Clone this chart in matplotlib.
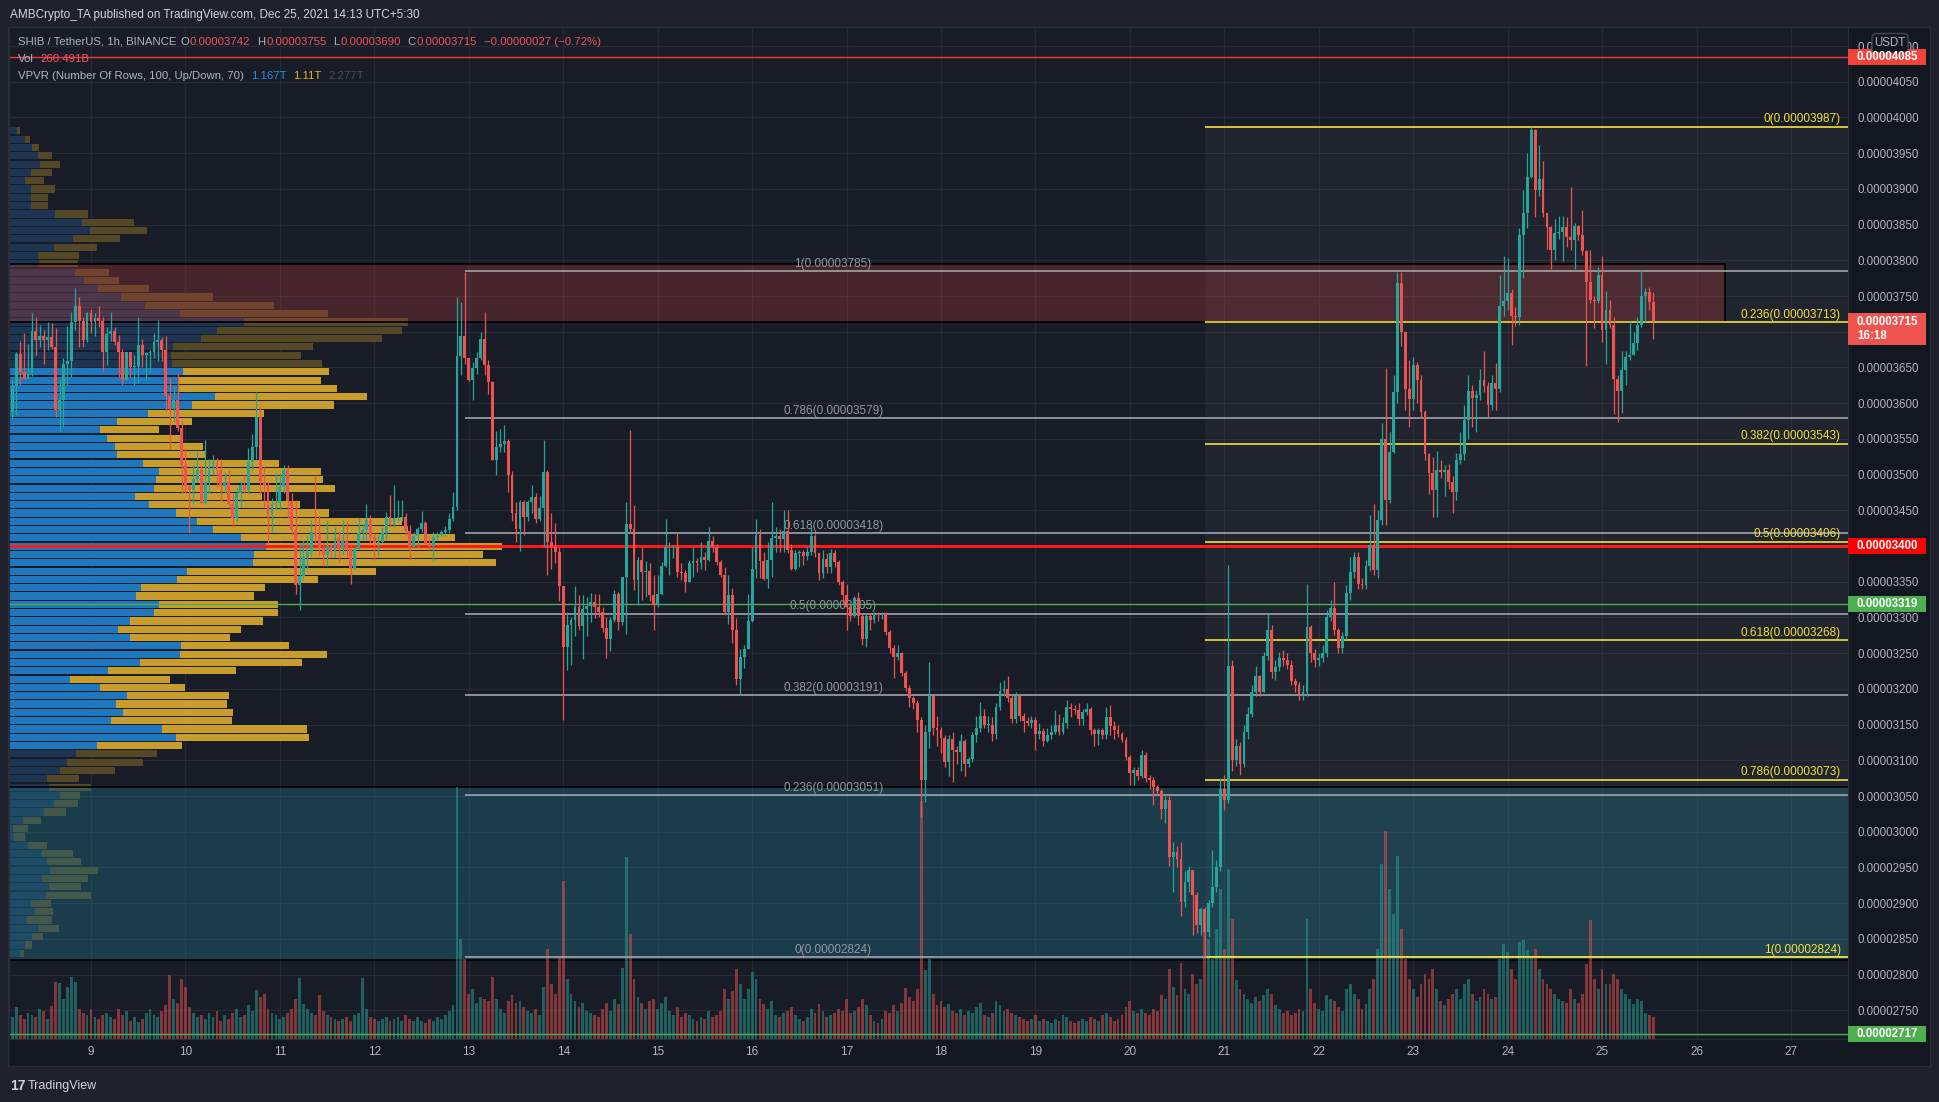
import matplotlib
matplotlib.use("Agg")
import matplotlib.pyplot as plt
import matplotlib.transforms as mtransforms
from matplotlib.patches import Rectangle, FancyBboxPatch
import numpy as np

plt.rcParams['font.family'] = ['Liberation Sans', 'DejaVu Sans']

# ---- data (prices in units of 1e-8 USDT, 1h candles from Dec 8 04:00) ----
first_open = 3588
closes = [
    3624,3669,3643,3634,3641,3701,3688,3694,3688,3692,3679,3590,3604,3655,3659,3714,3736,3715,3689,3726,3713,3719,3715,3672,
    3697,3701,3686,3671,3632,3671,3651,3651,3681,3668,3670,3671,3686,3688,3675,3610,3592,3605,3565,3514,3484,3478,3494,3506,
    3460,3490,3510,3518,3506,3484,3490,3459,3439,3474,3486,3478,3518,3539,3580,3490,3486,3443,3459,3460,3482,3506,3463,3423,
    3345,3358,3384,3392,3419,3416,3397,3388,3400,3392,3411,3396,3408,3396,3368,3396,3418,3422,3436,3413,3404,3405,3418,3441,
    3430,3439,3439,
    3440,3421,3398,3414,3424,3432,3403,3400,3413,3416,3420,3422,3438,3454,3666,3694,3663,3633,3649,3663,3690,3654,3629,3521,
    3538,3543,3547,3499,3446,3424,3461,3440,3461,3468,3438,3453,3504,3406,3398,3392,3344,3259,3290,3296,3315,3288,3312,3316,
    3322,3314,3307,3285,3270,3296,3333,3293,3357,3431,3424,3352,3381,3363,3365,3331,3317,3333,3372,3398,3399,3399,3364,3362,
    3350,3376,3379,3376,3384,3381,3407,3398,3377,3360,3307,3331,3282,3214,3245,3256,3295,3368,3416,3379,3354,3381,3411,3414,
    3410,3421,3395,3368,3390,3392,3386,3391,3414,
    3390,3362,3382,3370,3390,3377,3350,3332,3315,3302,3327,3302,3270,3302,3297,3305,3303,3305,3280,3257,3245,3250,3222,3201,
    3187,3180,3157,3072,3140,3190,3145,3143,3131,3097,3130,3115,3112,3127,3095,3102,3135,3145,3162,3150,3150,3137,3175,3197,
    3200,3187,3158,3190,3162,3155,3152,3157,3137,3141,3127,3135,3140,3150,3140,3152,3175,3172,3170,3158,3167,3172,3142,3137,
    3142,3135,3160,3148,3142,3137,3128,3105,3082,3086,3078,3107,3075,3073,3062,3057,3032,3045,2965,2972,2962,2902,2930,2946,
    2911,2870,2892,2860,2900,2922,
    2950,3060,3045,3232,3100,3120,3095,3140,3165,3196,3218,
    3196,3246,3282,3223,3231,3243,3241,3234,3211,3206,3193,3195,3286,3250,3241,3243,3250,3301,3313,3282,3257,3274,3334,3363,
    3384,3347,3346,3372,3402,3366,3436,3550,3464,3532,3616,3768,3699,3620,3606,3654,3633,3588,3529,3502,3478,3506,3504,3507,
    3489,3475,3521,3529,3577,3617,3607,3612,3632,3624,3598,3628,3620,3736,3743,3754,3722,3721,3836,3866,3917,3982,3898,3914,
    3866,3846,3815,3838,3839,3846,3832,3829,3848,3836,3813,3770,3745,3743,3779,3703,3730,3709,3634,3617,3647,3665,3667,3684,
    3709,3750,3755,3742,3715,
]
highs = [
    3632,3672,3687,3698,3683,3726,3720,3710,3702,3713,3712,3705,3632,3663,3708,3727,3761,3748,3720,3727,3732,3726,3736,3720,
    3707,3727,3707,3696,3676,3672,3672,3667,3720,3690,3672,3675,3698,3716,3693,3694,3635,3624,3642,3577,3537,3486,3514,3533,
    3514,3549,3522,3527,3523,3522,3504,3506,3474,3482,3492,3500,3537,3557,3616,3596,3510,3490,3467,3502,3502,3514,3514,3474,
    3465,3404,3408,3415,3437,3500,3443,3404,3435,3404,3427,3419,3437,3435,3404,3400,3439,3431,3459,3443,3418,3416,3427,3447,
    3471,3486,3465,
    3465,3446,3429,3419,3427,3449,3435,3414,3419,3420,3422,3428,3446,3475,3749,3741,3783,3663,3657,3671,3699,3728,3660,3631,
    3561,3564,3569,3550,3505,3462,3465,3465,3465,3486,3474,3470,3549,3506,3446,3432,3399,3344,3307,3301,3344,3331,3331,3328,
    3334,3333,3333,3315,3301,3301,3339,3336,3357,3462,3563,3458,3384,3398,3379,3376,3360,3360,3377,3438,3406,3400,3418,3376,
    3366,3381,3398,3383,3406,3392,3427,3414,3403,3381,3371,3360,3341,3299,3256,3261,3333,3398,3438,3424,3392,3406,3461,3427,
    3424,3451,3451,3403,3395,3395,3395,3398,3430,
    3417,3390,3395,3390,3396,3395,3380,3352,3347,3318,3330,3336,3305,3305,3306,3307,3307,3308,3307,3282,3262,3262,3252,3225,
    3205,3190,3185,3160,3150,3237,3190,3162,3147,3135,3136,3140,3120,3137,3130,3105,3140,3162,3182,3172,3162,3160,3180,3210,
    3212,3218,3192,3195,3192,3166,3160,3162,3160,3152,3145,3145,3150,3170,3165,3160,3185,3180,3177,3180,3172,3180,3175,3145,
    3145,3145,3175,3177,3155,3150,3140,3132,3108,3090,3090,3115,3112,3080,3077,3065,3060,3050,3050,2985,2980,2985,2945,2952,
    2946,2915,2895,2895,2905,2975,
    2960,3075,3080,3374,3240,3130,3125,3150,3175,3205,3232,
    3220,3252,3306,3290,3240,3252,3255,3250,3240,3215,3210,3205,3347,3290,3256,3250,3262,3310,3325,3350,3285,3280,3345,3385,
    3392,3392,3355,3380,3443,3459,3450,3572,3649,3560,3640,3783,3783,3700,3660,3665,3658,3640,3590,3530,3525,3533,3520,3513,
    3515,3498,3530,3560,3598,3640,3625,3618,3648,3673,3630,3640,3656,3780,3806,3803,3760,3735,3845,3898,3950,3987,3984,3962,
    3939,3866,3848,3858,3862,3862,3860,3902,3852,3850,3870,3815,3815,3750,3790,3806,3757,3745,3720,3640,3673,3673,3715,3700,
    3720,3787,3761,3762,3755,
]
lows = [
    3578,3584,3625,3634,3634,3638,3667,3679,3655,3675,3676,3581,3559,3566,3625,3636,3702,3679,3679,3686,3698,3694,3707,3644,
    3653,3687,3681,3636,3625,3632,3636,3625,3630,3650,3632,3643,3663,3659,3659,3588,3536,3573,3561,3474,3474,3418,3459,3490,
    3459,3459,3474,3500,3482,3463,3474,3453,3427,3435,3455,3474,3474,3506,3522,3471,3455,3404,3419,3451,3451,3474,3439,3415,
    3333,3310,3353,3368,3386,3404,3388,3372,3372,3384,3384,3378,3388,3384,3347,3368,3396,3408,3408,3404,3380,3386,3404,3408,
    3427,3427,3435,
    3435,3414,3381,3398,3398,3419,3403,3395,3379,3408,3414,3414,3418,3435,3451,3640,3655,3631,3605,3641,3660,3639,3613,3521,
    3499,3532,3532,3475,3435,3406,3393,3416,3435,3446,3432,3435,3398,3360,3368,3376,3323,3157,3226,3234,3274,3283,3242,3274,
    3293,3299,3301,3280,3243,3253,3293,3283,3290,3277,3419,3339,3317,3325,3328,3323,3283,3315,3331,3371,3360,3383,3357,3352,
    3336,3349,3357,3363,3368,3366,3379,3392,3374,3357,3304,3291,3264,3205,3191,3229,3256,3293,3355,3355,3352,3341,3357,3392,
    3392,3392,3390,3366,3366,3371,3374,3380,3387,
    3385,3352,3355,3362,3362,3370,3345,3320,3282,3295,3300,3290,3262,3258,3283,3292,3295,3298,3275,3250,3215,3240,3218,3197,
    3175,3172,3140,3020,3042,3117,3135,3120,3110,3090,3078,3070,3095,3085,3078,3090,3098,3125,3140,3145,3140,3127,3130,3170,
    3190,3182,3152,3152,3155,3140,3148,3145,3115,3130,3120,3125,3130,3137,3135,3137,3145,3160,3165,3150,3150,3163,3135,3120,
    3122,3130,3130,3135,3130,3132,3125,3100,3065,3065,3072,3075,3070,3060,3037,3052,3018,3012,2952,2915,2950,2882,2895,2915,
    2855,2858,2855,2824,2852,2895,
    2915,2945,3030,3040,3085,3092,3080,3090,3130,3160,3190,
    3190,3195,3240,3215,3212,3225,3232,3228,3205,3195,3185,3184,3190,3238,3230,3232,3238,3245,3295,3275,3250,3250,3270,3325,
    3355,3340,3340,3340,3365,3360,3355,3430,3430,3460,3530,3600,3680,3590,3566,3590,3600,3580,3520,3473,3440,3440,3495,3470,
    3480,3446,3465,3515,3520,3550,3566,3560,3605,3615,3581,3590,3590,3615,3722,3730,3681,3708,3710,3775,3845,3915,3861,3890,
    3860,3816,3788,3800,3830,3799,3818,3815,3788,3828,3808,3652,3740,3705,3740,3686,3655,3705,3585,3573,3586,3625,3660,3668,
    3675,3707,3713,3730,3690,
]
# volume per candle, billions of SHIB
volumes = [
    264,384,288,240,312,288,264,360,336,240,396,684,672,480,624,744,684,360,312,288,360,264,240,288,
    312,264,240,360,288,336,216,264,204,240,312,360,288,264,336,408,768,480,432,720,624,384,312,264,
    288,240,312,264,336,216,288,240,312,360,264,288,408,336,588,504,540,360,312,288,240,264,312,360,
    480,732,420,360,312,288,528,336,288,264,240,216,240,264,216,288,312,732,360,264,240,216,240,264,
    216,240,264,216,288,240,216,264,216,192,240,216,264,240,288,336,408,3024,1200,960,540,600,432,504,
    480,456,744,480,360,312,456,528,432,456,384,336,312,360,288,624,1080,660,540,984,1900,720,540,456,
    384,432,336,312,288,264,360,432,336,480,420,852,2180,1260,720,504,432,360,456,480,360,432,504,336,
    288,384,264,312,288,240,216,264,240,336,264,288,336,600,480,576,840,660,480,600,804,720,480,420,
    360,456,288,264,312,336,384,288,240,216,264,360,312,420,336,264,288,312,360,336,480,312,336,384,
    480,408,288,216,192,240,336,312,408,336,432,612,504,456,600,2860,828,960,540,408,456,384,420,336,
    312,360,288,336,312,384,432,288,264,312,456,408,336,360,312,288,264,240,216,240,288,216,240,216,
    192,240,216,288,264,216,192,216,240,216,264,240,216,288,312,264,216,240,288,384,456,336,312,360,
    312,288,360,336,528,480,840,624,528,912,600,540,780,660,720,1560,1200,960,1320,1800,1080,2040,1440,708,
    600,540,480,432,504,456,528,600,540,408,360,312,336,288,312,360,336,1440,600,432,360,336,528,480,
    456,384,336,600,660,540,480,360,420,600,720,1080,2100,2500,1800,1500,2200,1320,960,720,600,504,660,780,
    720,840,600,456,408,480,540,600,480,660,720,540,456,504,600,540,480,504,960,1140,1050,840,720,1164,
    1188,1068,1000,1080,840,720,660,600,540,480,456,432,600,480,432,540,900,1428,720,600,840,660,660,780,
    720,600,540,480,420,480,456,312,288,260,
]

# VPVR rows, top (3987) to bottom (2824), up / down volume
vp_up = [
    8,16,23,29,31,22,16,22,22,22, 46,73,81,64,45,29,30,66,75,89,
    112,136,171,235,208,192,164,162,163,174, 170,170,206,183,139,108,91,98,106,108,
    134,150,147,145,126,140,167,188,204,232, 257,245,244,178,168,132,127,150,145,121,
    109,121,172,171,131,99,61,91,118,107, 114,102,153,167,88,67,58,51,38,40,
    51,45,35,14,4,5,19,33,38,41, 33,40,37,22,26,18,30,23,16,11,
]
vp_down = [
    3,5,7,14,20,21,19,24,17,17, 33,52,57,47,43,41,39,34,35,51,
    92,129,148,164,185,181,140,130,150,146, 142,158,152,142,116,75,59,73,88,89,
    136,162,167,181,127,151,153,205,195,214, 236,229,243,189,141,124,118,119,124,133,
    123,100,108,147,162,128,100,85,102,111, 110,121,145,133,85,81,76,55,32,42,
    20,24,22,18,15,11,19,31,34,48, 46,32,45,20,18,25,20,11,7,4,
]
vp_high, vp_low = 3987, 2824
va_rows = (29, 74)

fib1_levels = ['1', '0.786', '0.618', '0.5', '0.382', '0.236', '0']
fib1_prices = [3785, 3579, 3418, 3305, 3191, 3051, 2824]
fib2_levels = ['0', '0.236', '0.382', '0.5', '0.618', '0.786', '1']
fib2_prices = [3987, 3713, 3543, 3406, 3268, 3073, 2824]

days = list(range(9, 28))

# ---- figure ----
W, H = 1940, 1102
def fx(x):
    return x / W
def fy(y):
    return 1 - y / H

fig = plt.figure(figsize=(W / 100, H / 100), dpi=100)
fig.patch.set_facecolor('#1f222c')
fig.add_artist(Rectangle((fx(8), fy(1066)), (1930 - 8) / W, (1066 - 27) / H,
                         transform=fig.transFigure, facecolor='#131722',
                         edgecolor='#2a2e39', lw=1.0, zorder=-5))

ax = fig.add_axes([fx(9), fy(1039), (1848 - 9) / W, (1039 - 27) / H])
ax.set_facecolor('#181c27')
XL = (3.161, 470.5)
YL = (2709.8, 4126.6)

closes = np.array(closes, float)
highs = np.array(highs, float)
lows = np.array(lows, float)
volumes = np.array(volumes, float)
hours = np.arange(4, 4 + len(closes))
opens = np.r_[first_open, closes[:-1]]
highs = np.maximum(highs, np.maximum(opens, closes))
lows = np.minimum(lows, np.minimum(opens, closes))
rising = closes >= opens
TEAL, RED = '#26a69a', '#ef5350'
cols = np.where(rising, TEAL, RED)

# fib 2 background
ax.add_patch(Rectangle((307, vp_low), XL[1] - 307, 3987 - vp_low,
                       facecolor=(1, 1, 1, 0.035), lw=0, zorder=0.7))

# VPVR
blend_vp = mtransforms.blended_transform_factory(ax.transAxes, ax.transData)
row_h = (vp_high - vp_low) / len(vp_up)
vp_span = 1839.0
for i, (u, d) in enumerate(zip(vp_up, vp_down)):
    yc = vp_high - (i + 0.5) * row_h
    inside = va_rows[0] <= i <= va_rows[1]
    cu = '#1f78bd' if inside else '#1d3553'
    cd = '#c99d2b' if inside else '#554827'
    ax.barh(yc, u / vp_span, left=0, height=row_h * 0.86, color=cu,
            transform=blend_vp, zorder=1.0, lw=0)
    ax.barh(yc, d / vp_span, left=u / vp_span, height=row_h * 0.86, color=cd,
            transform=blend_vp, zorder=1.0, lw=0)

# zones
ax.add_patch(Rectangle((XL[0], 3713), 439.3 - XL[0], 3795 - 3713,
                       facecolor=(0.706, 0.235, 0.235, 0.30), edgecolor='black',
                       lw=1.2, zorder=1.5))
ax.add_patch(Rectangle((XL[0] - 1, 2820), XL[1] - XL[0] + 2, 3062 - 2820,
                       facecolor=(0.13, 0.47, 0.55, 0.35), edgecolor='black',
                       lw=1.2, zorder=1.5))

# volume
blend_vol = mtransforms.blended_transform_factory(ax.transData, ax.transAxes)
vol_top = 12144.0
ax.bar(hours, volumes / vol_top, width=0.72, bottom=0, color=cols, alpha=0.5,
       transform=blend_vol, zorder=1.8, lw=0)

# fib retracements
for lev, p in zip(fib1_levels, fib1_prices):
    ax.hlines(p, 119, XL[1], color='#a0a3ab', lw=1.2, zorder=2.0)
    ax.text(212.6, p + 2, f'{lev}(0.{p:08d})', color='#9598a1', fontsize=8.5,
            ha='center', va='bottom', zorder=2.1)
for lev, p in zip(fib2_levels, fib2_prices):
    ax.hlines(p, 307, XL[1], color='#f5e13b', lw=1.2, zorder=2.0)
    ax.text(468.7, p + 2, f'{lev}(0.{p:08d})', color='#f5e13b', fontsize=8.5,
            ha='right', va='bottom', zorder=2.1)

# horizontal levels
ax.axhline(4085, color='#f23645', lw=1.0, zorder=2.3)
ax.axhline(3400, color='#ff1a1a', lw=2.2, zorder=2.3)
ax.axhline(3319, color='#4caf50', lw=1.0, zorder=2.3)
ax.axhline(2717, color='#4caf50', lw=1.0, zorder=2.3)

# candles
ax.vlines(hours, lows, highs, colors=cols, lw=0.9, zorder=3.0)
body_lo = np.minimum(opens, closes)
body_h = np.maximum(np.abs(closes - opens), 1.2)
ax.bar(hours, body_h, bottom=body_lo, width=0.72, color=cols, lw=0, zorder=3.1)

# axes formatting; labels at 3700 and 3400 sit under the price tags
ax.set_xlim(*XL)
ax.set_ylim(*YL)
yt = list(range(2750, 4101, 50))
ax.set_yticks(yt)
ax.set_yticklabels(['' if v in (3700, 3400) else f'0.{v:08d}' for v in yt])
ax.yaxis.tick_right()
ax.set_xticks([24 * (d - 8) for d in days])
ax.set_xticklabels([str(d) for d in days])
ax.tick_params(axis='y', length=0, pad=7, labelsize=8.3, labelcolor='#b2b5be')
ax.tick_params(axis='x', length=0, pad=5, labelsize=8.5, labelcolor='#b2b5be')
ax.grid(True, color='#262a35', lw=0.9)
ax.set_axisbelow(True)
for s in ax.spines.values():
    s.set_color('#2a2e39')

# price tags on the right scale
blend_tag = mtransforms.blended_transform_factory(fig.transFigure, ax.transData)
def price_tag(p, text, color, rows=1):
    h = 16 * 1.4 * rows
    top = p + 8 * 1.4
    fig.add_artist(Rectangle((fx(1848), top - h), 78 / W, h, transform=blend_tag,
                             facecolor=color, lw=0, zorder=5))
    fig.text(fx(1857), top - h / 2, text, transform=blend_tag, color='white',
             fontsize=8.3, fontweight='bold', ha='left', va='center', zorder=6,
             linespacing=1.15)

price_tag(4085, '0.00004085', '#f0433a')
price_tag(3715, '0.00003715\n16:18', '#ef5350', rows=2)
price_tag(3400, '0.00003400', '#ff0000')
price_tag(3319, '0.00003319', '#4caf50')
price_tag(2717, '0.00002717', '#4caf50')

fig.add_artist(FancyBboxPatch((fx(1873), fy(52)), 34 / W, 18 / H,
                              boxstyle='round,pad=0.0005,rounding_size=0.003',
                              transform=fig.transFigure, facecolor='#131722',
                              edgecolor='#434651', lw=1.0, zorder=5))
fig.text(fx(1890), fy(43), 'USDT', color='#b2b5be', fontsize=8.3,
         ha='center', va='center', zorder=6)

# header and legend
fig.text(fx(10), fy(15), 'AMBCrypto_TA published on TradingView.com, Dec 25, 2021 14:13 UTC+5:30',
         color='#d1d4dc', fontsize=8.45, va='center')
GRAY, VRED = '#b2b5be', '#f7525f'
legend_rows = [
    (42, [(0, 'SHIB / TetherUS, 1h, BINANCE', GRAY), (3, 'O', GRAY), (0.5, '0.00003742', VRED),
          (5, 'H', GRAY), (0.5, '0.00003755', VRED), (5, 'L', GRAY), (0.5, '0.00003690', VRED),
          (5, 'C', GRAY), (0.5, '0.00003715', VRED), (5, '\u22120.00000027 (\u22120.72%)', VRED)]),
    (59, [(0, 'Vol', GRAY), (5, '260.491B', VRED)]),
    (76, [(0, 'VPVR (Number Of Rows, 100, Up/Down, 70)', GRAY), (5, '1.167T', '#2a8fe0'),
          (5, '1.11T', '#e5b52a'), (5, '2.277T', '#4a4d57')]),
]
for y, parts in legend_rows:
    prev = None
    for gap, s, c in parts:
        if prev is None:
            prev = fig.text(fx(18), fy(y), s, color=c, fontsize=8.2, va='center', zorder=6)
        else:
            prev = ax.annotate(s, xy=(1, 0.5), xycoords=prev, xytext=(gap, 0),
                               textcoords='offset points', color=c, fontsize=8.2,
                               va='center', ha='left', annotation_clip=False, zorder=6)

# footer logo
fig.text(fx(10), fy(1086), '17', color='#d1d4dc', fontsize=10, fontweight='bold', va='center')
fig.text(fx(28), fy(1086), 'TradingView', color='#d1d4dc', fontsize=9, va='center')

fig.savefig('out.png', dpi=100, facecolor=fig.get_facecolor())
